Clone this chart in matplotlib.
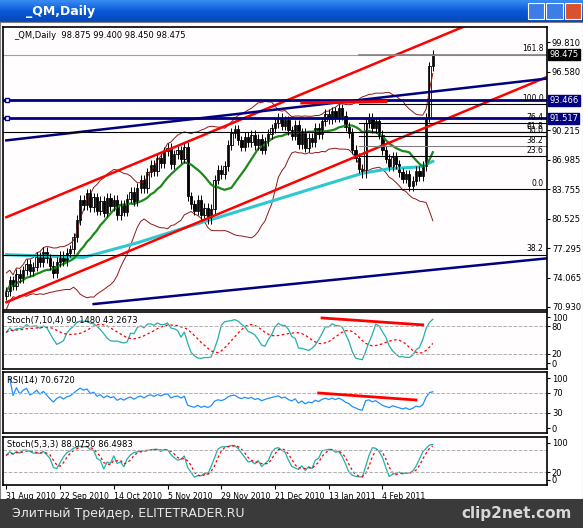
import matplotlib
matplotlib.use("Agg")
import matplotlib.pyplot as plt
import matplotlib.transforms as mtransforms
from matplotlib.patches import Rectangle
import numpy as np
import pandas as pd

# daily closes, 31 Aug 2010 .. mid Feb 2011
closes = [72.6, 73.8, 73.2, 74.5, 74.0, 74.9, 75.6, 74.8, 75.3, 76.4,
          75.8, 76.9, 76.2, 75.4, 74.6, 75.8, 76.5, 75.9, 76.8, 77.2,
          78.5, 80.4, 82.6, 82.0, 83.3, 81.8, 82.9, 81.4, 82.5, 81.2,
          82.8, 81.9, 82.6, 80.9, 82.1, 81.3, 82.7, 83.5, 82.4, 83.9,
          84.8, 83.9, 85.6, 86.4, 85.7, 87.2, 86.6, 87.9, 88.3, 86.5,
          87.6, 88.0, 87.1, 88.4, 83.0, 82.1, 81.4, 82.6, 80.9, 81.7,
          80.5, 81.6, 84.8, 85.9, 85.4, 86.3, 88.6, 89.9, 90.3, 89.1,
          88.4, 89.5, 88.9, 89.7, 88.6, 89.3, 88.1, 89.0, 89.8, 90.4,
          91.0, 91.6, 90.7, 91.3, 90.2, 89.6, 90.8, 88.7, 89.9, 88.3,
          89.4, 88.9, 90.5, 89.8, 91.2, 92.0, 91.4, 92.3, 91.6, 92.6,
          91.8, 90.6, 89.9, 88.1, 87.2, 86.0, 85.5, 91.0, 91.6, 90.4,
          91.2, 89.7, 88.0, 87.1, 86.2, 87.3, 86.5, 85.6, 84.9, 85.4,
          84.1, 84.7, 85.8, 85.2, 86.3, 91.6, 97.2, 98.5]
first_open = 72.1
# long moving average (cyan) read at a few bars
slow_ma_bars = [0, 23, 39, 58, 82, 106, 114, 123, 127]
slow_ma_vals = [76.6, 76.3, 77.9, 80.1, 82.8, 85.5, 86.0, 86.2, 86.8]
date_labels = ["31 Aug 2010", "22 Sep 2010", "14 Oct 2010", "5 Nov 2010",
               "29 Nov 2010", "21 Dec 2010", "13 Jan 2011", "4 Feb 2011"]
price_ticks = [99.810, 96.580, 90.215, 86.985, 83.755, 80.525, 77.295, 74.065, 70.930]
boxed_levels = [93.466, 91.517]
last_price = 98.475
fib_names = ["100.0", "76.4", "61.8", "50.0", "38.2", "23.6", "0.0"]
fib_prices = [93.1, 91.0, 90.0, 89.6, 88.5, 87.4, 83.8]

n = len(closes)
c = np.array(closes)
o = np.concatenate([[first_open], c[:-1]])
hi = np.maximum(o, c) + 0.5
lo = np.minimum(o, c) - 0.5
x = np.arange(n)
XMAX = 161

W, H = 583, 528
fig = plt.figure(figsize=(W / 100, H / 100), dpi=100, facecolor="#d4d0c8")

def box(l, t, r, b):
    return [l / W, 1 - b / H, (r - l) / W, (b - t) / H]

# title bar
tb = fig.add_axes(box(0, 0, W, 22))
grad = np.linspace(0, 1, 50).reshape(-1, 1)
tb.imshow(grad, aspect="auto", cmap=matplotlib.colors.LinearSegmentedColormap.from_list(
    "t", ["#3a8cf4", "#0a5ad8", "#0846b8"]), extent=[0, 1, 0, 1])
tb.set_axis_off()
tb.text(0.045, 0.5, "_QM,Daily", color="white", fontsize=9, fontweight="bold",
        va="center", transform=tb.transAxes)
for i, col in enumerate(["#3c7de8", "#3c7de8", "#d9522c"]):
    tb.add_patch(Rectangle((0.905 + i * 0.032, 0.15), 0.028, 0.7, facecolor=col,
                           edgecolor="white", lw=0.8, transform=tb.transAxes))
tb.set_xlim(0, 1); tb.set_ylim(0, 1)

# white chart backdrop
bg = fig.add_axes(box(0, 22, W, 499))
bg.set_facecolor("white"); bg.set_xticks([]); bg.set_yticks([])
for sp in bg.spines.values():
    sp.set_color("#808080")

def panel(t, b):
    ax = fig.add_axes(box(3, t, 547, b))
    ax.set_facecolor("#fffdfd")
    ax.set_xlim(-1, XMAX)
    ax.yaxis.tick_right()
    ax.tick_params(axis="y", labelsize=6, length=2, pad=1.5)
    ax.tick_params(axis="x", bottom=False, labelbottom=False)
    for sp in ax.spines.values():
        sp.set_linewidth(1.2)
    return ax

# ---- main price panel
ax = panel(27, 310)
ax.set_ylim(70.55, 101.5)
ax.set_yticks(price_ticks)
ax.set_yticklabels([f"{v:.3f}" for v in price_ticks])

s = pd.Series(c)
ma_fast = s.rolling(14, min_periods=1).mean()
bb_mid = s.rolling(20, min_periods=1).mean()
bb_sd = s.rolling(20, min_periods=2).std().fillna(1.0)
ax.plot(x, bb_mid + 2 * bb_sd, color="#8b1a1a", lw=0.7)
ax.plot(x, bb_mid - 2 * bb_sd, color="#8b1a1a", lw=0.7)
ax.plot(slow_ma_bars, slow_ma_vals, color="#2ec8d0", lw=2.2)
ax.plot(x, ma_fast, color="#1a8a1a", lw=1.6)

for i in range(n):
    ax.vlines(x[i], lo[i], hi[i], color="black", lw=0.7)
    up = c[i] >= o[i]
    ax.add_patch(Rectangle((x[i] - 0.35, min(o[i], c[i])), 0.7, max(abs(c[i] - o[i]), 0.05),
                           facecolor="white" if up else "black", edgecolor="black", lw=0.6))

xs = np.array([0, XMAX])
# channels
ax.plot(xs, 80.7 + 0.153 * xs, color="red", lw=1.8)
ax.plot(xs, 71.4 + 0.153 * xs, color="red", lw=1.8)
ax.plot(xs, 89.1 + 0.042 * xs, color="#000080", lw=1.8)
ax.plot([26, XMAX], [71.2, 76.2], color="#000080", lw=1.8)
for lv in boxed_levels:
    ax.axhline(lv, color="#000080", lw=2)
    ax.plot([0.3], [lv], marker="s", ms=3.5, mfc="white", mec="#000080", clip_on=False)
ax.axhline(last_price, color="#a0a0a0", lw=0.8)
ax.plot([105, XMAX], [last_price, last_price], color="#808080", lw=1.2)
ax.text(160, last_price + 0.15, "161.8", fontsize=5.5, ha="right", va="bottom")
ax.axhline(90.0, color="black", lw=0.8)
ax.axhline(76.6, color="black", lw=0.8)
ax.text(160, 76.75, "38.2", fontsize=5.5, ha="right", va="bottom")
for nm, pr in zip(fib_names, fib_prices):
    ax.plot([105, XMAX], [pr, pr], color="black" if nm != "38.2" else "#808080", lw=0.8)
    ax.text(160, pr + 0.08, nm, fontsize=5.5, ha="right", va="bottom")
ax.plot([88, 113], [93.2, 93.35], color="red", lw=2.2)

tr = mtransforms.blended_transform_factory(ax.transAxes, ax.transData)
ax.text(1.004, last_price, f"{last_price:.3f}", transform=tr, fontsize=6, color="white",
        va="center", bbox=dict(boxstyle="square,pad=0.15", fc="black", ec="black"))
for lv in boxed_levels:
    ax.text(1.004, lv, f"{lv:.3f}", transform=tr, fontsize=6, color="white", va="center",
            bbox=dict(boxstyle="square,pad=0.15", fc="#000080", ec="#000080"))
ax.text(0.02, 0.985, "_QM,Daily  98.875 99.400 98.450 98.475", transform=ax.transAxes,
        fontsize=6, va="top")

# ---- indicators
def stoch(k, sl, d):
    hh = pd.Series(hi).rolling(k, min_periods=1).max()
    ll = pd.Series(lo).rolling(k, min_periods=1).min()
    raw = (s - ll).rolling(sl, min_periods=1).sum() / (hh - ll).rolling(sl, min_periods=1).sum() * 100
    return raw, raw.rolling(d, min_periods=1).mean()

def rsi(p):
    dl = s.diff().fillna(0)
    g = dl.clip(lower=0).ewm(alpha=1 / p).mean()
    l = (-dl.clip(upper=0)).ewm(alpha=1 / p).mean()
    return 100 - 100 / (1 + g / l)

a1 = panel(312, 369)
a1.set_ylim(-13, 111)
k1, d1 = stoch(7, 4, 10)
a1.plot(x, k1, color="#20b2aa", lw=0.9)
a1.plot(x, d1, color="red", lw=0.9, ls=(0, (2, 2)))
for lv in (20, 80):
    a1.axhline(lv, color="#b0b0b0", lw=0.7, ls="--")
a1.set_yticks([0, 20, 80, 100])
a1.plot([94, 124], [98, 83], color="red", lw=2)
a1.text(0.008, 0.93, "Stoch(7,10,4) 90.1480 43.2673", transform=a1.transAxes, fontsize=6, va="top")

a2 = panel(372, 433)
a2.set_ylim(-10, 112)
a2.plot(x, rsi(14), color="#1e90ff", lw=0.9)
for lv in (30, 70):
    a2.axhline(lv, color="#b0b0b0", lw=0.7, ls="--")
a2.set_yticks([0, 30, 70, 100])
a2.plot([93, 122], [70, 56], color="red", lw=2)
a2.text(0.008, 0.93, "RSI(14) 70.6720", transform=a2.transAxes, fontsize=6, va="top")

a3 = panel(437, 485)
a3.set_ylim(-14, 116)
k3, d3 = stoch(5, 3, 3)
a3.plot(x, k3, color="#20b2aa", lw=0.9)
a3.plot(x, d3, color="red", lw=0.9, ls=(0, (2, 2)))
for lv in (20, 80):
    a3.axhline(lv, color="#b0b0b0", lw=0.7, ls="--")
a3.set_yticks([0, 20, 100])
a3.text(0.008, 0.93, "Stoch(5,3,3) 88.0750 86.4983", transform=a3.transAxes, fontsize=6, va="top")
a3.set_xticks(np.arange(len(date_labels)) * 16)
a3.set_xticklabels(date_labels)
a3.tick_params(axis="x", bottom=True, labelbottom=True, labelsize=5.6, length=3, pad=2)
for lbl in a3.get_xticklabels():
    lbl.set_ha("left")

# footer
ft = fig.add_axes(box(0, 499, W, H))
ft.set_facecolor("#3a3a3a"); ft.set_xticks([]); ft.set_yticks([])
for sp in ft.spines.values():
    sp.set_visible(False)
ft.text(0.02, 0.5, "Элитный Трейдер, ELITETRADER.RU", color="#e8e8e8", fontsize=9,
        va="center", transform=ft.transAxes)
ft.text(0.98, 0.5, "clip2net.com", color="#d8d8d8", fontsize=11, fontweight="bold",
        va="center", ha="right", transform=ft.transAxes)

fig.savefig("out.png", dpi=100, facecolor=fig.get_facecolor())
